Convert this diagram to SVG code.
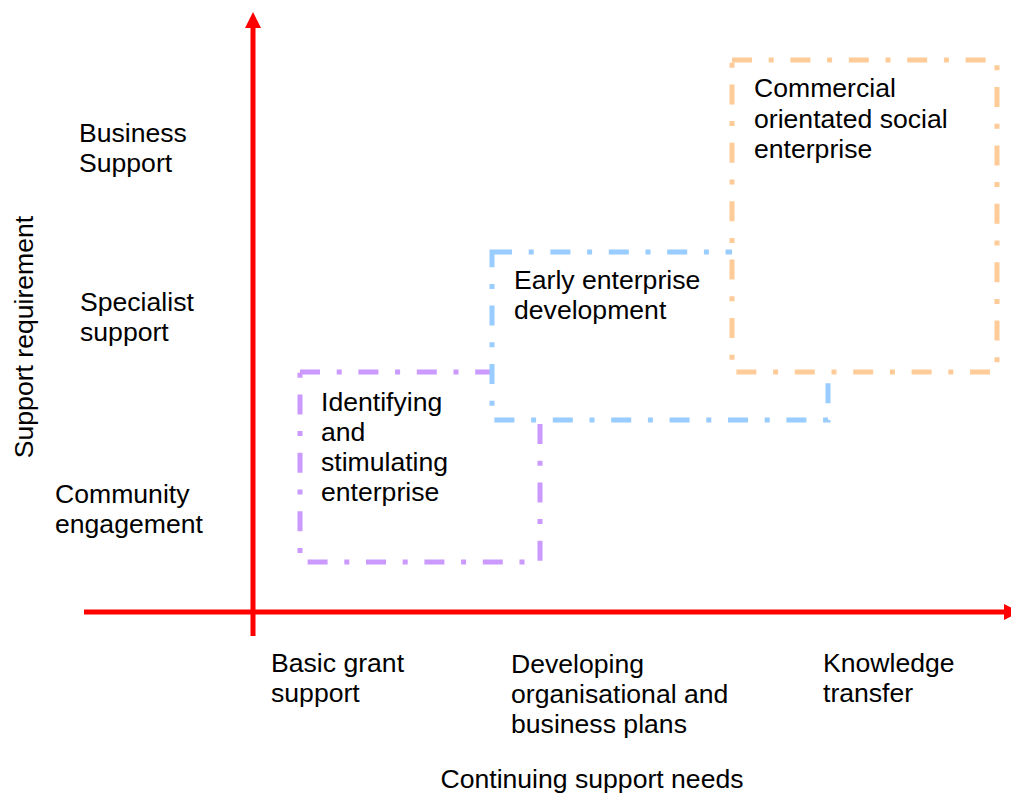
<svg xmlns="http://www.w3.org/2000/svg" width="1011" height="796" viewBox="0 0 1011 796">
<style>
text { font-family: "Liberation Sans", Arial, sans-serif; font-size: 26.6px; fill: #000; }
.box { stroke-width: 5; stroke-dasharray: 20 16.7 5 16.7; fill: #fff; }
.axis { stroke: #ff0000; stroke-width: 5; fill: none; }
</style>
<rect width="1011" height="796" fill="#fff"/>
<g id="connectors">
  <line class="axis" x1="84" y1="612" x2="1006" y2="612"/>
  <polygon points="1004,604 1020,612 1004,620" fill="#ff0000"/>
  <line class="axis" x1="253" y1="636" x2="253" y2="26"/>
  <polygon points="245,28 253,12 261,28" fill="#ff0000"/>
</g>
<g id="node-identifying">
  <rect class="box" x="300" y="372" width="240" height="190" stroke="#cc99ff"/>
</g>
<g id="node-early">
  <rect class="box" x="492" y="252" width="336" height="168" stroke="#99ccff"/>
</g>
<g id="node-commercial">
  <rect class="box" x="732" y="60" width="265" height="312" stroke="#ffcc99"/>
</g>
<g id="node-identifying-label">
  <text x="321" y="411">Identifying</text>
  <text x="321" y="441">and</text>
  <text x="321" y="471">stimulating</text>
  <text x="321" y="501">enterprise</text>
</g>
<g id="node-early-label">
  <text x="514" y="289">Early enterprise</text>
  <text x="514" y="319">development</text>
</g>
<g id="node-commercial-label">
  <text x="754" y="97">Commercial</text>
  <text x="754" y="128">orientated social</text>
  <text x="754" y="158">enterprise</text>
</g>
<g id="y-labels">
  <text x="79" y="142">Business</text>
  <text x="79" y="172">Support</text>
  <text x="80" y="311">Specialist</text>
  <text x="80" y="341">support</text>
  <text x="55" y="503">Community</text>
  <text x="55" y="533">engagement</text>
  <text transform="translate(33,337) rotate(-90)" text-anchor="middle">Support requirement</text>
</g>
<g id="x-labels">
  <text x="271" y="672">Basic grant</text>
  <text x="271" y="702">support</text>
  <text x="511" y="673">Developing</text>
  <text x="511" y="703">organisational and</text>
  <text x="511" y="733">business plans</text>
  <text x="823" y="672">Knowledge</text>
  <text x="823" y="702">transfer</text>
  <text x="592" y="788" text-anchor="middle">Continuing support needs</text>
</g>
</svg>
